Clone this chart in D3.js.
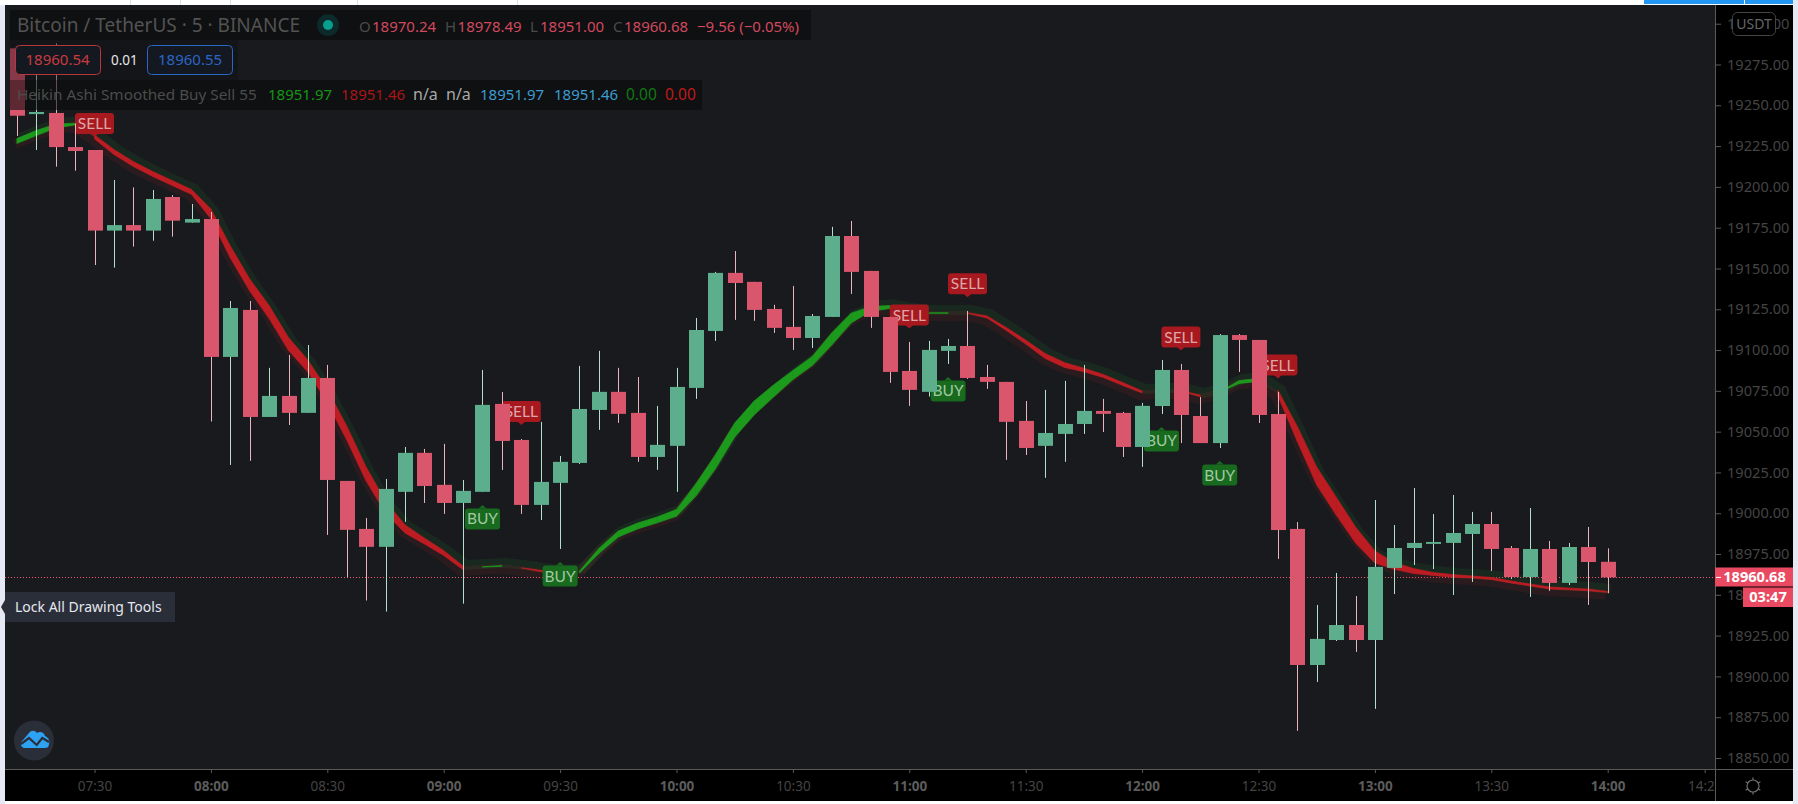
<!DOCTYPE html>
<html>
<head>
<meta charset="utf-8">
<script src="https://cdn.jsdelivr.net/npm/d3@7/dist/d3.min.js"></script>
<style>
  html, body { margin: 0; padding: 0; background: #fff; overflow: hidden; }
  text { font-family: "Noto Sans", sans-serif; }
</style>
</head>
<body>
<div id="chart"></div>
<script>
// candles, one per 5 minutes, first bar 07:10
var firstBarMinutes = 430;
var opens = [19284.9,19244.6,19245.3,19224.4,19222.6,19173.2,19176.6,19173.2,19193.8,19178.1,
  19180.3,19095.8,19124.6,19059.0,19071.9,19061.5,19082.9,19019.8,18990.4,18979.4,
  19013.1,19037.0,19017.4,19006.3,19013.1,19067.0,19044.9,19005.1,19018.6,19030.8,
  19063.3,19074.4,19061.5,19034.5,19041.3,19076.8,19111.7,19147.3,19141.8,19125.2,
  19114.2,19107.4,19120.3,19169.9,19148.5,19120.3,19087.2,19074.4,19099.5,19102.5,
  19083.5,19080.5,19056.6,19041.3,19048.6,19054.7,19062.7,19061.5,19040.6,19065.7,
  19087.8,19059.6,19043.0,19109.2,19106.2,19060.8,18990.4,18907.0,18922.3,18931.5,
  18922.3,18966.5,18978.7,18981.2,18981.8,18987.3,18993.4,18978.7,18960.9,18978.1,
  18957.3,18979.3,18970.24];
var highs = [19284.9,19268.5,19287.9,19238.9,19222.6,19204.2,19199.7,19198.1,19195.0,19189.5,
  19184.6,19130.1,19130.1,19089.1,19097.0,19103.1,19090.9,19019.8,18997.1,19021.0,
  19040.6,19039.4,19042.5,19020.4,19087.8,19074.3,19045.5,19056.0,19035.1,19090.3,
  19099.5,19089.1,19083.5,19065.8,19089.1,19119.7,19147.9,19160.7,19141.8,19127.7,
  19139.3,19122.1,19175.5,19179.1,19148.5,19120.3,19105.0,19105.6,19106.8,19124.0,
  19090.9,19080.5,19068.8,19075.6,19081.1,19090.9,19070.1,19062.1,19067.6,19093.9,
  19091.5,19071.2,19109.8,19109.8,19106.2,19074.3,18994.6,18943.8,18963.4,18949.3,
  19008.1,18992.8,19015.5,18999.5,19011.2,19000.8,19000.8,18979.9,19003.2,18983.0,
  18981.8,18991.6,18978.49];
var lows = [19231.2,19222.6,19212.4,19209.9,19152.1,19150.5,19163.4,19167.0,19169.5,19178.1,
  19056.2,19029.6,19032.1,19059.0,19054.1,19061.5,18986.7,18960.8,18946.5,18939.7,
  18994.7,19006.3,18999.6,18944.6,19013.1,19026.5,18999.6,18995.9,18978.1,19030.2,
  19051.1,19055.4,19031.5,19026.6,19013.1,19070.1,19105.6,19118.5,19117.9,19110.5,
  19100.1,19101.3,19120.3,19134.4,19113.6,19079.9,19065.8,19071.5,19091.5,19082.3,
  19076.2,19032.7,19035.7,19021.7,19031.5,19048.6,19049.8,19034.5,19028.4,19060.8,
  19043.0,19043.0,19040.0,19086.6,19055.3,18972.0,18866.6,18896.6,18921.7,18915.0,
  18880.1,18950.5,18968.3,18965.8,18949.9,18957.9,18964.6,18959.7,18948.7,18952.4,
  18956.0,18943.8,18951.00];
var closes = [19243.6,19245.9,19224.4,19222.0,19173.2,19176.6,19173.2,19192.6,19179.3,19180.3,
  19095.8,19125.8,19059.0,19071.9,19061.5,19082.9,19020.4,18989.8,18979.4,19014.9,
  19037.0,19016.7,19006.3,19013.7,19066.4,19044.3,19005.1,19019.2,19031.5,19063.9,
  19074.4,19060.9,19034.5,19041.9,19077.4,19112.3,19147.3,19141.1,19124.6,19113.6,
  19107.4,19120.9,19169.9,19147.9,19120.3,19086.6,19075.6,19100.1,19102.5,19082.9,
  19080.5,19056.0,19040.0,19049.2,19054.7,19062.7,19060.9,19040.6,19065.8,19087.8,
  19060.2,19043.0,19109.2,19106.2,19060.2,18989.7,18907.0,18923.0,18931.5,18922.3,
  18967.1,18978.7,18981.8,18982.4,18987.9,18993.4,18978.1,18960.9,18978.1,18957.3,
  18979.3,18970.1,18960.68];

// Heikin Ashi smoothed open and close, the band between them is the thick line
var haOpen = [19226.6,19231.5,19236.1,19238.0,19231.8,19222.9,19215.5,19209.4,19203.9,19198.4,
  19186.4,19163.8,19143.6,19127.3,19107.7,19093.9,19075.9,19053.5,19028.4,19007.5,
  18992.9,18984.8,18977.1,18967.7,18967.0,18967.5,18966.6,18965.0,18963.9,18963.4,
  18975.4,18985.5,18990.4,18994.1,18998.1,19010.6,19027.1,19046.7,19060.2,19071.2,
  19081.9,19090.5,19103.1,19116.6,19123.7,19125.5,19123.9,19122.6,19122.5,19122.9,
  19120.9,19113.8,19106.1,19097.9,19092.3,19088.9,19085.0,19080.1,19074.9,19074.9,
  19075.0,19072.4,19074.2,19079.5,19080.8,19075.5,19053.2,19028.3,19010.0,18991.6,
  18976.9,18969.8,18966.1,18963.7,18962.4,18961.5,18960.6,18958.5,18956.6,18954.8,
  18954.1,18953.5,18951.97];
var haClose = [19229.6,19234.5,19238.5,19239.0,19229.4,19219.9,19212.5,19206.4,19200.9,19195.4,
  19180.4,19156.4,19136.2,19119.3,19099.7,19086.5,19067.9,19044.9,19019.8,19000.1,
  18987.9,18981.2,18974.1,18965.3,18967.2,18967.9,18966.4,18964.2,18962.9,18964.6,
  18978.4,18989.1,18994.0,18997.7,19002.3,19018.0,19035.7,19055.3,19068.8,19078.6,
  19087.5,19096.1,19110.5,19122.6,19126.7,19127.3,19123.9,19122.8,19122.9,19122.5,
  19119.7,19112.0,19103.7,19094.9,19089.3,19086.7,19083.2,19078.3,19073.7,19074.9,
  19074.8,19071.4,19074.4,19081.3,19082.6,19071.9,19044.0,19017.3,18999.0,18981.8,
  18969.5,18965.6,18963.1,18961.9,18960.8,18960.3,18959.4,18957.3,18955.4,18953.6,
  18953.1,18952.5,18951.46];

// signal flags: text, bar index, price the pointer touches
var signalTexts = ["SELL","BUY","SELL","BUY","SELL","BUY","SELL","BUY","SELL","BUY","SELL"];
var signalBars = [4,24,26,28,46,48,49,59,60,62,65];
var signalPrices = [19230.6,19005.1,19054.1,18970.1,19113.2,19083.5,19132.4,19052.9,19099.7,19032.0,19082.5];

var priceTicks = [19300,19275,19250,19225,19200,19175,19150,19125,19100,19075,19050,19025,19000,18975,18950,18925,18900,18875,18850];
var timeTicks = ["07:30","08:00","08:30","09:00","09:30","10:00","10:30","11:00","11:30","12:00","12:30","13:00","13:30","14:00","14:25"];
var lastPrice = 18960.68;
var countdown = "03:47";

var svgWidth = 1798;
var svgHeight = 804;

var chartLeft = 5;
var chartTop = 5;
var chartRight = 1715;
var chartBottom = 769;
var frameRight = 1793;
var frameBottom = 801;

var upColor = "#5cae8c";
var downColor = "#d9566d";
var upWick = "#b4dfcc";
var downWick = "#eab4bd";
var tagColor = "#ea4a61";

var svg = d3.select("#chart")
  .append("svg")
  .attr("width", svgWidth)
  .attr("height", svgHeight)
  .style("display", "block");

var xScale = d3.scaleLinear().domain([0, 82]).range([16.9, 1607.7]);
var yScale = d3.scaleLinear().domain([18850, 19275]).range([758, 64.5]);

function timeToBar(t) {
  var p = t.split(":");
  return (+p[0] * 60 + +p[1] - firstBarMinutes) / 5;
}

var defs = svg.append("defs");
defs.append("clipPath").attr("id", "plotClip").append("rect")
  .attr("x", chartLeft).attr("y", chartTop)
  .attr("width", chartRight - chartLeft).attr("height", chartBottom - chartTop);

// page frame around the chart
svg.append("rect").attr("width", svgWidth).attr("height", svgHeight).attr("fill", "#ffffff");
svg.append("rect").attr("x", 0).attr("y", 5).attr("width", chartLeft).attr("height", svgHeight).attr("fill", "#e6e9f3");
svg.append("rect").attr("x", frameRight).attr("y", 0).attr("width", 5).attr("height", svgHeight).attr("fill", "#e6e9f3");
[130, 180, 230, 357, 517].forEach(function(x) {
  svg.append("rect").attr("x", x).attr("y", 0).attr("width", 1).attr("height", 5).attr("fill", "#dcdfe6");
});
svg.append("rect").attr("x", 1644).attr("y", 0).attr("width", 100).attr("height", 4).attr("fill", "#2196f3");
svg.append("rect").attr("x", 1745).attr("y", 0).attr("width", 48).attr("height", 4).attr("fill", "#2196f3");

svg.append("rect").attr("x", chartLeft).attr("y", chartTop)
  .attr("width", chartRight - chartLeft).attr("height", chartBottom - chartTop)
  .attr("fill", "#181a1d");
svg.append("rect").attr("x", chartRight).attr("y", chartTop)
  .attr("width", frameRight - chartRight).attr("height", frameBottom - chartTop)
  .attr("fill", "#000");
svg.append("rect").attr("x", chartLeft).attr("y", chartBottom)
  .attr("width", chartRight - chartLeft).attr("height", frameBottom - chartBottom)
  .attr("fill", "#000");

var plot = svg.append("g").attr("clip-path", "url(#plotClip)");

// last price line
plot.append("line")
  .attr("x1", chartLeft).attr("x2", chartRight)
  .attr("y1", Math.floor(yScale(lastPrice)) + 0.5).attr("y2", Math.floor(yScale(lastPrice)) + 0.5)
  .attr("stroke", "#f0566c").attr("stroke-width", 1).attr("stroke-dasharray", "1 2");

// soft glow along the indicator, green above it and red below it
var bars = d3.range(opens.length);
var midLine = d3.line()
  .x(function(i) { return xScale(i); })
  .y(function(i) { return yScale((haOpen[i] + haClose[i]) / 2); });

plot.append("path").attr("d", midLine(bars))
  .attr("transform", "translate(3,-3)")
  .attr("fill", "none").attr("stroke", "#2c8a3c").attr("stroke-opacity", 0.14).attr("stroke-width", 10);
plot.append("path").attr("d", midLine(bars))
  .attr("transform", "translate(-2,3)")
  .attr("fill", "none").attr("stroke", "#b02a2a").attr("stroke-opacity", 0.12).attr("stroke-width", 10);

// indicator band, no segment where the colour flips
var band = d3.area()
  .x(function(i) { return xScale(i); })
  .y0(function(i) { return yScale(haOpen[i]); })
  .y1(function(i) { return yScale(haClose[i]); });

function bandSign(i) { return Math.sign(haClose[i] - haOpen[i]); }

var segments = d3.range(1, bars.length).filter(function(i) {
  return bandSign(i) === bandSign(i - 1);
});

plot.selectAll(".band")
  .data(segments)
  .enter()
  .append("path")
  .attr("class", "band")
  .attr("d", function(i) { return band([i - 1, i]); })
  .attr("fill", function(i) { return bandSign(i) > 0 ? "#1c9a1c" : "#bc1c22"; })
  .attr("stroke", function(i) { return bandSign(i) > 0 ? "#1c9a1c" : "#bc1c22"; })
  .attr("stroke-width", 0.7)
  .attr("stroke-linejoin", "round");

// buy and sell flags
var flags = plot.selectAll(".flag")
  .data(signalTexts.map(function(t, i) { return i; }))
  .enter()
  .append("g")
  .attr("class", "flag")
  .attr("transform", function(i) {
    return "translate(" + xScale(signalBars[i]) + "," + yScale(signalPrices[i]) + ")";
  });

flags.each(function(i) {
  var g = d3.select(this);
  var isSell = signalTexts[i] === "SELL";
  var w = isSell ? 39 : 35;
  var fill = isSell ? "#a8191f" : "#176a1e";
  var boxY = isSell ? -24 : 3.5;
  g.append("rect")
    .attr("x", -w / 2).attr("y", boxY)
    .attr("width", w).attr("height", 21)
    .attr("rx", 3).attr("fill", fill);
  g.append("path")
    .attr("d", isSell ? "M-4,-3.5L0,0L4,-3.5Z" : "M-4,3.5L0,0L4,3.5Z")
    .attr("fill", fill);
  g.append("text")
    .attr("x", 0).attr("y", boxY + 16)
    .attr("text-anchor", "middle")
    .attr("font-size", 15.5)
    .style("font-family", "Lato, sans-serif")
    .attr("fill", isSell ? "#dca6a8" : "#a3c9a3")
    .text(signalTexts[i]);
});

// candles
var candles = plot.selectAll(".candle")
  .data(bars)
  .enter()
  .append("g")
  .attr("class", "candle");

candles.append("line")
  .attr("x1", function(i) { return Math.round(xScale(i)) + 0.5; })
  .attr("x2", function(i) { return Math.round(xScale(i)) + 0.5; })
  .attr("y1", function(i) { return yScale(highs[i]); })
  .attr("y2", function(i) { return yScale(lows[i]); })
  .attr("stroke", function(i) { return closes[i] >= opens[i] ? upWick : downWick; })
  .attr("stroke-width", 1);

candles.append("rect")
  .attr("x", function(i) { return Math.round(xScale(i)) - 7; })
  .attr("width", 15)
  .attr("y", function(i) { return yScale(Math.max(opens[i], closes[i])); })
  .attr("height", function(i) { return Math.max(1, Math.abs(yScale(opens[i]) - yScale(closes[i]))); })
  .attr("fill", function(i) { return closes[i] >= opens[i] ? upColor : downColor; });

// price axis
var priceAxis = d3.axisRight(yScale)
  .tickValues(priceTicks)
  .tickSize(6)
  .tickPadding(6)
  .tickFormat(function(d) { return d.toFixed(2); });

var priceAxisG = svg.append("g")
  .attr("transform", "translate(" + chartRight + ",0)")
  .call(priceAxis);
priceAxisG.select(".domain").remove();
priceAxisG.selectAll(".tick line").attr("stroke", "#5a5a5a");
priceAxisG.selectAll(".tick text")
  .attr("fill", "#444444")
  .attr("font-size", 14.6)
  .attr("font-family", "'Noto Sans', sans-serif");

// time axis
var timeAxis = d3.axisBottom(xScale)
  .tickValues(timeTicks.map(timeToBar))
  .tickSize(4)
  .tickPadding(8)
  .tickFormat(function(d, i) { return timeTicks[i]; });

var timeAxisG = svg.append("g")
  .attr("transform", "translate(0," + chartBottom + ")")
  .call(timeAxis);
timeAxisG.select(".domain").remove();
timeAxisG.selectAll(".tick line").attr("stroke", "#5a5a5a");
timeAxisG.selectAll(".tick text")
  .attr("fill", function(d, i) { return timeTicks[i].slice(3) === "00" ? "#5c5c5c" : "#444444"; })
  .attr("font-weight", function(d, i) { return timeTicks[i].slice(3) === "00" ? "bold" : "normal"; })
  .attr("font-size", 13.5)
  .attr("font-family", "'Noto Sans', sans-serif");

// axis borders and cover for the clipped end of the time axis
svg.append("rect").attr("x", chartRight).attr("y", chartBottom).attr("width", frameRight - chartRight).attr("height", frameBottom - chartBottom).attr("fill", "#000");
svg.append("line").attr("x1", chartLeft).attr("x2", frameRight).attr("y1", chartBottom + 0.5).attr("y2", chartBottom + 0.5).attr("stroke", "#5a5a5a");
svg.append("line").attr("x1", chartRight + 0.5).attr("x2", chartRight + 0.5).attr("y1", chartTop).attr("y2", frameBottom).attr("stroke", "#5a5a5a");

// USDT badge
svg.append("rect").attr("x", 1732.5).attr("y", 12.5).attr("width", 43).attr("height", 23)
  .attr("rx", 5).attr("fill", "#000").attr("stroke", "#444");
svg.append("text").attr("x", 1754).attr("y", 29).attr("text-anchor", "middle")
  .attr("font-size", 14).attr("fill", "#666").text("USDT");

// last price and countdown tags
svg.append("rect").attr("x", chartRight).attr("y", 567.5).attr("width", frameRight - chartRight).attr("height", 19).attr("fill", tagColor);
svg.append("line").attr("x1", chartRight + 1).attr("x2", chartRight + 6)
  .attr("y1", yScale(lastPrice)).attr("y2", yScale(lastPrice)).attr("stroke", "#fff");
svg.append("text").attr("x", 1754.5).attr("y", 582).attr("text-anchor", "middle")
  .attr("font-size", 14.6).attr("font-weight", "bold").attr("fill", "#fff").text(lastPrice.toFixed(2));
svg.append("rect").attr("x", 1743).attr("y", 587.5).attr("width", frameRight - 1743).attr("height", 19.5).attr("fill", tagColor);
svg.append("text").attr("x", 1768).attr("y", 602).attr("text-anchor", "middle")
  .attr("font-size", 14.6).attr("font-weight", "bold").attr("fill", "#fff").text(countdown);

// settings gear
var gear = svg.append("g").attr("transform", "translate(1753,786)")
  .attr("fill", "none").attr("stroke", "#707070").attr("stroke-width", 1.2);
gear.append("circle").attr("r", 6);
d3.range(6).forEach(function(k) {
  var a = k * Math.PI / 3 + Math.PI / 6;
  gear.append("line")
    .attr("x1", 6 * Math.cos(a)).attr("y1", 6 * Math.sin(a))
    .attr("x2", 8.5 * Math.cos(a)).attr("y2", 8.5 * Math.sin(a));
});

// legend rows, the candles show through them
svg.append("rect").attr("x", 10).attr("y", 10).attr("width", 801).attr("height", 30).attr("fill", "#0a0a0a").attr("fill-opacity", 0.6);
svg.append("rect").attr("x", 10).attr("y", 40).attr("width", 228).attr("height", 40).attr("fill", "#0f1014").attr("fill-opacity", 0.4);
svg.append("rect").attr("x", 10).attr("y", 80).attr("width", 692).attr("height", 30).attr("fill", "#0a0a0a").attr("fill-opacity", 0.6);

function legendText(str, x, y, color, size) {
  return svg.append("text").attr("x", x).attr("y", y)
    .attr("font-size", size || 15).attr("fill", color).text(str);
}

legendText("Bitcoin / TetherUS · 5 · BINANCE", 17, 32, "#535353", 19);
svg.append("circle").attr("cx", 328).attr("cy", 25).attr("r", 11).attr("fill", "#0c2a29");
svg.append("circle").attr("cx", 328).attr("cy", 25).attr("r", 5).attr("fill", "#089f8f");

var ohlcRed = "#d2495f";
legendText("O", 359, 32, "#4a4a4a");
legendText("18970.24", 372, 32, ohlcRed);
legendText("H", 445, 32, "#4a4a4a");
legendText("18978.49", 457.6, 32, ohlcRed);
legendText("L", 530, 32, "#4a4a4a");
legendText("18951.00", 540, 32, ohlcRed);
legendText("C", 613, 32, "#4a4a4a");
legendText("18960.68", 624, 32, ohlcRed);
legendText("−9.56 (−0.05%)", 697, 32, ohlcRed);

svg.append("rect").attr("x", 15.5).attr("y", 45.5).attr("width", 85).attr("height", 29)
  .attr("rx", 4).attr("fill", "#141820").attr("stroke", "#b5383a");
legendText("18960.54", 25.5, 65, "#c83c40");
legendText("0.01", 111, 65, "#e8e8e8", 13.5);
svg.append("rect").attr("x", 147.5).attr("y", 45.5).attr("width", 85).attr("height", 29)
  .attr("rx", 4).attr("fill", "#141820").attr("stroke", "#2a66c4");
legendText("18960.55", 158, 65, "#2a66c4");

legendText("Heikin Ashi Smoothed Buy Sell 55", 17, 100, "#4c4c4c", 15.3);
legendText("18951.97", 268, 100, "#159615");
legendText("18951.46", 341, 100, "#a81616");
legendText("n/a", 413, 100, "#a8a8a8", 16);
legendText("n/a", 446, 100, "#a8a8a8", 16);
legendText("18951.97", 480, 100, "#3d9bd0");
legendText("18951.46", 554, 100, "#3d9bd0");
legendText("0.00", 626, 100, "#117a11", 15.5);
legendText("0.00", 665, 100, "#bf1a1a", 15.5);

// tooltip on the left toolbar
svg.append("rect").attr("x", 5).attr("y", 592).attr("width", 170).attr("height", 30).attr("fill", "#2a2e39");
svg.append("path").attr("d", "M5,600L1,607L5,614Z").attr("fill", "#2a2e39");
legendText("Lock All Drawing Tools", 15, 612, "#e6e8ee", 14);

// logo button
svg.append("circle").attr("cx", 34).attr("cy", 740.5).attr("r", 20).attr("fill", "#2a2e39");
svg.append("path")
  .attr("d", "M25,748 C20,748 20,742 23,740 L29,733 C31,730 35,730 37,733 C40,731 44,732 45,736 C49,738 50,741 49,744 C49,747 47,748 45,748 Z")
  .attr("fill", "#2ea2f2");
svg.append("polyline")
  .attr("points", "21,744 29,738 36.7,745 42.3,738 49,742")
  .attr("fill", "none").attr("stroke", "#2a2e39").attr("stroke-width", 2.2);
</script>
</body>
</html>
